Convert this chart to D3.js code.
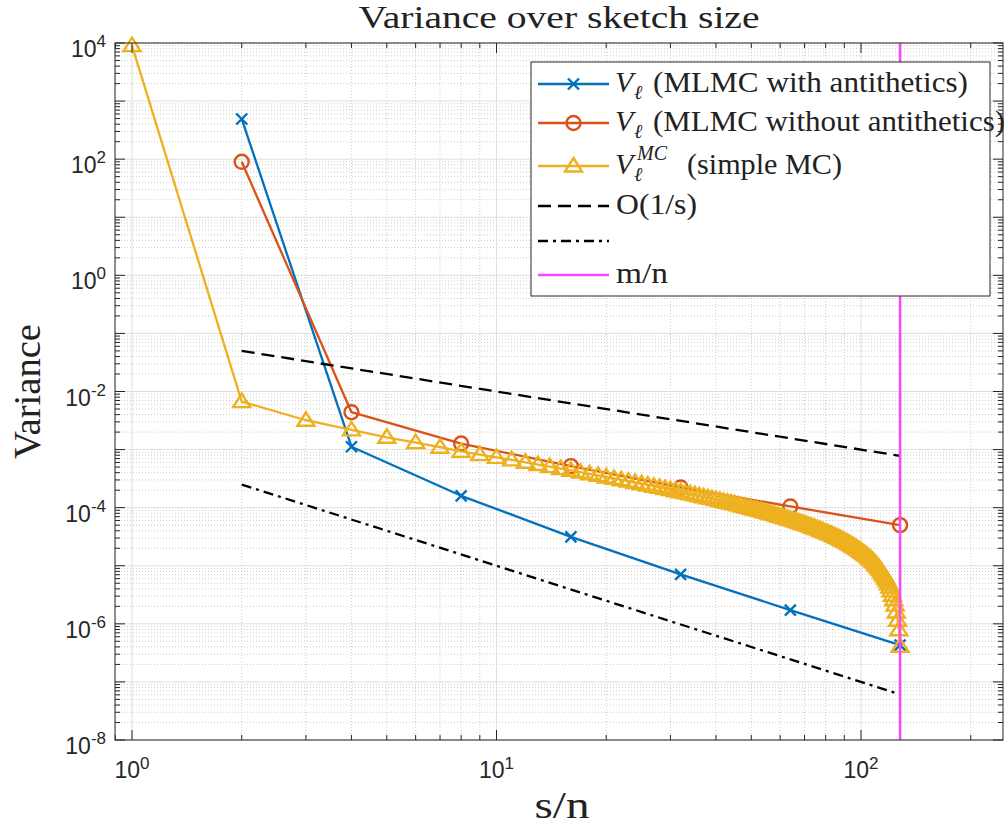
<!DOCTYPE html>
<html><head><meta charset="utf-8">
<script src="https://cdn.jsdelivr.net/npm/d3@7/dist/d3.min.js"></script>
<style>body{margin:0;background:#fff}svg{display:block}</style>
</head><body>
<svg id="chart" width="1008" height="832"></svg>
<script>
// ---------------- data ----------------
const sketchMLMC = [2, 4, 8, 16, 32, 64, 128];
const varAntithetic = [492, 1.12e-3, 1.6e-4, 3.15e-5, 7.1e-6, 1.72e-6, 4.3e-7];
const varNoAntithetic = [90, 4.4e-3, 1.27e-3, 5.2e-4, 2.23e-4, 1.05e-4, 5.0e-5];
const sketchMC = [1,2,3,4,5,6,7,8,9,10,11,12,13,14,15,16,17,18,19,20,21,22,23,24,25,26,27,28,29,30,31,32,
  33,34,35,36,37,38,39,40,41,42,43,44,45,46,47,48,49,50,51,52,53,54,55,56,57,58,59,60,61,62,63,64,
  65,66,67,68,69,70,71,72,73,74,75,76,77,78,79,80,81,82,83,84,85,86,87,88,89,90,91,92,93,94,95,96,
  97,98,99,100,101,102,103,104,105,106,107,108,109,110,111,112,113,114,115,116,117,118,119,120,121,122,123,124,125,126,127,128];
const varMC = [9000, 6.7e-3, 3.2e-3, 2.18e-3, 1.63e-3, 1.32e-3, 1.10e-3, 9.3e-4, 8.2e-4, 7.35e-4,
  6.65e-4, 6.05e-4, 5.53e-4, 5.09e-4, 4.71e-4, 4.38e-4, 4.09e-4, 3.82e-4, 3.59e-4, 3.38e-4,
  3.19e-4, 3.02e-4, 2.86e-4, 2.71e-4, 2.58e-4, 2.46e-4, 2.34e-4, 2.24e-4, 2.14e-4, 2.05e-4,
  1.96e-4, 1.88e-4, 1.80e-4, 1.73e-4, 1.67e-4, 1.60e-4, 1.54e-4, 1.48e-4, 1.43e-4, 1.38e-4,
  1.33e-4, 1.28e-4, 1.24e-4, 1.20e-4, 1.16e-4, 1.12e-4, 1.08e-4, 1.05e-4, 1.01e-4, 9.79e-5,
  9.48e-5, 9.17e-5, 8.88e-5, 8.60e-5, 8.34e-5, 8.08e-5, 7.83e-5, 7.58e-5, 7.35e-5, 7.12e-5,
  6.90e-5, 6.69e-5, 6.49e-5, 6.29e-5, 6.10e-5, 5.91e-5, 5.73e-5, 5.55e-5, 5.38e-5, 5.22e-5,
  5.06e-5, 4.90e-5, 4.75e-5, 4.60e-5, 4.46e-5, 4.32e-5, 4.18e-5, 4.05e-5, 3.92e-5, 3.79e-5,
  3.67e-5, 3.55e-5, 3.43e-5, 3.31e-5, 3.20e-5, 3.09e-5, 2.99e-5, 2.88e-5, 2.78e-5, 2.68e-5,
  2.58e-5, 2.49e-5, 2.39e-5, 2.30e-5, 2.21e-5, 2.12e-5, 2.04e-5, 1.95e-5, 1.87e-5, 1.79e-5,
  1.71e-5, 1.63e-5, 1.56e-5, 1.48e-5, 1.41e-5, 1.34e-5, 1.27e-5, 1.20e-5, 1.13e-5, 1.06e-5,
  9.9e-6, 9.2e-6, 8.6e-6, 7.9e-6, 7.3e-6, 6.7e-6, 6.1e-6, 5.5e-6, 4.9e-6, 4.3e-6,
  3.7e-6, 3.1e-6, 2.6e-6, 2.1e-6, 1.6e-6, 1.15e-6, 7.9e-7, 4.1e-7];
const refX = [2, 128];
const refFirstOrder = [0.05, 7.8e-4];      // O(1/s)
const refSecondOrder = [2.5e-4, 6.1e-8];   // dash-dot reference
const mOverN = 128;
const xTickValues = [1, 10, 100];
const xTickExponents = ["0", "1", "2"];
const yTickValues = [1e4, 1e2, 1, 1e-2, 1e-4, 1e-6, 1e-8];
const yTickExponents = ["4", "2", "0", "-2", "-4", "-6", "-8"];
const legendLabels = ["(MLMC with antithetics)", "(MLMC without antithetics)", "(simple MC)", "O(1/s)", "", "m/n"];
const titleText = "Variance over sketch size";
const xLabelText = "s/n";
const yLabelText = "Variance";

// ---------------- layout ----------------
const C = {blue: "#0072BD", red: "#D95319", yellow: "#EDB120", magenta: "#FF44FF", axis: "#262626"};
const L = 115, R = 1003, T = 43, B = 740;
const LW = 2.3, MW = 2.4;
const xRef = d3.scaleLog().domain([1, 100]).range([132, 861]);
const x = d3.scaleLog().domain([xRef.invert(L), xRef.invert(R)]).range([L, R]);
const y = d3.scaleLog().domain([1e-8, 1e4]).range([B, T]);

const svg = d3.select("#chart");
svg.append("rect").attr("width", 1008).attr("height", 832).attr("fill", "#fff");
svg.append("defs").append("clipPath").attr("id", "clip")
  .append("rect").attr("x", L).attr("y", T - 10).attr("width", R - L).attr("height", B - T + 10);

// grid
const xAll = x.ticks();
const yAll = [];
for (let e = -8; e < 4; e++) for (let m = 1; m < 10; m++) yAll.push(m * Math.pow(10, e));
yAll.push(1e4);
const isMajor = v => Math.abs(Math.log10(v) - Math.round(Math.log10(v))) < 1e-9;
const xMinor = xAll.filter(v => !isMajor(v) && v > x.domain()[0] && v < x.domain()[1]);
const xMajor = xAll.filter(v => isMajor(v));
const yMinor = yAll.filter(v => !isMajor(v));
const yMajor = yAll.filter(v => isMajor(v));

const grid = svg.append("g");
grid.selectAll(".gxm").data(xMinor).join("line")
  .attr("x1", d => x(d)).attr("x2", d => x(d)).attr("y1", T).attr("y2", B)
  .attr("stroke", "#cdcdcd").attr("stroke-width", 1).attr("stroke-dasharray", "1,2");
grid.selectAll(".gym").data(yMinor).join("line")
  .attr("y1", d => y(d)).attr("y2", d => y(d)).attr("x1", L).attr("x2", R)
  .attr("stroke", "#cdcdcd").attr("stroke-width", 1).attr("stroke-dasharray", "1,2");
grid.selectAll(".gxM").data(xMajor).join("line")
  .attr("x1", d => x(d)).attr("x2", d => x(d)).attr("y1", T).attr("y2", B)
  .attr("stroke", "#dedede").attr("stroke-width", 1);
grid.selectAll(".gyM").data(yMajor).join("line")
  .attr("y1", d => y(d)).attr("y2", d => y(d)).attr("x1", L).attr("x2", R)
  .attr("stroke", "#dedede").attr("stroke-width", 1);

// data
const plotG = svg.append("g").attr("clip-path", "url(#clip)");
const line = d3.line().x(d => x(d[0])).y(d => y(d[1]));
const zip = (a, b) => a.map((v, i) => [v, b[i]]);

const crossPath = "M-5.5,-5.5L5.5,5.5M-5.5,5.5L5.5,-5.5";
const triPath = "M0,-8L8.5,5.5L-8.5,5.5Z";

function series(pts, color, marker) {
  plotG.append("path").attr("d", line(pts)).attr("fill", "none")
    .attr("stroke", color).attr("stroke-width", LW).attr("stroke-linejoin", "round");
  const g = plotG.append("g");
  if (marker === "circle") {
    g.selectAll("circle").data(pts).join("circle")
      .attr("cx", d => x(d[0])).attr("cy", d => y(d[1])).attr("r", 7)
      .attr("fill", "none").attr("stroke", color).attr("stroke-width", MW);
  } else {
    g.selectAll("path").data(pts).join("path")
      .attr("transform", d => `translate(${x(d[0])},${y(d[1])})`)
      .attr("d", marker === "cross" ? crossPath : triPath)
      .attr("fill", "none").attr("stroke", color).attr("stroke-width", MW)
      .attr("stroke-linejoin", "miter");
  }
}
series(zip(sketchMLMC, varAntithetic), C.blue, "cross");
series(zip(sketchMLMC, varNoAntithetic), C.red, "circle");
series(zip(sketchMC, varMC), C.yellow, "tri");

plotG.append("path").attr("d", line(zip(refX, refFirstOrder))).attr("fill", "none")
  .attr("stroke", "#000").attr("stroke-width", LW).attr("stroke-dasharray", "13,7");
plotG.append("path").attr("d", line(zip(refX, refSecondOrder))).attr("fill", "none")
  .attr("stroke", "#000").attr("stroke-width", LW).attr("stroke-dasharray", "10,5,3,5");
plotG.append("line").attr("x1", x(mOverN)).attr("x2", x(mOverN)).attr("y1", T).attr("y2", B)
  .attr("stroke", C.magenta).attr("stroke-width", 2.5);

// axes box + ticks
const ax = svg.append("g").attr("stroke", C.axis).attr("stroke-width", 1).attr("fill", "none");
ax.append("rect").attr("x", L).attr("y", T).attr("width", R - L).attr("height", B - T);
const tk = (v, maj) => maj ? 10 : 5;
[...xMinor.map(v => [v, false]), ...xMajor.map(v => [v, true])].forEach(([v, m]) => {
  ax.append("line").attr("x1", x(v)).attr("x2", x(v)).attr("y1", B).attr("y2", B - tk(v, m));
  ax.append("line").attr("x1", x(v)).attr("x2", x(v)).attr("y1", T).attr("y2", T + tk(v, m));
});
[...yMinor.map(v => [v, false]), ...yMajor.map(v => [v, true])].forEach(([v, m]) => {
  ax.append("line").attr("y1", y(v)).attr("y2", y(v)).attr("x1", L).attr("x2", L + tk(v, m));
  ax.append("line").attr("y1", y(v)).attr("y2", y(v)).attr("x1", R).attr("x2", R - tk(v, m));
});

// tick labels
const tickFont = "'Liberation Sans', Arial, Helvetica, sans-serif";
xTickValues.forEach((v, i) => {
  const t = svg.append("text").attr("x", x(v)).attr("y", 778).attr("text-anchor", "middle")
    .attr("font-family", tickFont).attr("font-size", 23).attr("fill", C.axis);
  t.append("tspan").text("10");
  t.append("tspan").attr("dy", -9).attr("font-size", 17).text(xTickExponents[i]);
});
yTickValues.forEach((v, i) => {
  const t = svg.append("text").attr("x", 106).attr("y", y(v) + 14).attr("text-anchor", "end")
    .attr("font-family", tickFont).attr("font-size", 23).attr("fill", C.axis);
  t.append("tspan").text("10");
  t.append("tspan").attr("dy", -10).attr("font-size", 17).text(yTickExponents[i]);
});

// titles
const serif = "'Liberation Serif', 'Times New Roman', serif";
svg.append("text").attr("x", (L + R) / 2).attr("y", 28).attr("text-anchor", "middle")
  .attr("font-family", serif).attr("font-size", 32).attr("fill", "#222")
  .attr("textLength", 401).attr("lengthAdjust", "spacingAndGlyphs").text(titleText);
svg.append("text").attr("transform", `translate(40,${(T + B) / 2}) rotate(-90)`)
  .attr("text-anchor", "middle").attr("font-family", serif).attr("font-size", 38).attr("fill", "#222")
  .attr("textLength", 135).attr("lengthAdjust", "spacingAndGlyphs").text(yLabelText);
svg.append("text").attr("x", (L + R) / 2 + 3).attr("y", 818).attr("text-anchor", "middle")
  .attr("font-family", serif).attr("font-size", 38).attr("fill", "#222")
  .attr("textLength", 55).attr("lengthAdjust", "spacingAndGlyphs").text(xLabelText);

// legend
const lg = svg.append("g");
lg.append("rect").attr("x", 531).attr("y", 62).attr("width", 459).attr("height", 234)
  .attr("fill", "#fff").attr("stroke", C.axis).attr("stroke-width", 1);
const rows = [
  {cy: 84, color: C.blue, marker: "cross", dash: null, kind: "V", restX: 653, restLen: 315},
  {cy: 123, color: C.red, marker: "circle", dash: null, kind: "V", restX: 653, restLen: 352},
  {cy: 166, color: C.yellow, marker: "tri", dash: null, kind: "VMC", restX: 687, restLen: 155},
  {cy: 206, color: "#000", marker: null, dash: "13,7", kind: "plain", restX: 616, restLen: 81},
  {cy: 241, color: "#000", marker: null, dash: "10,5,3,5", kind: "none"},
  {cy: 275, color: C.magenta, marker: null, dash: null, kind: "plain", restX: 616, restLen: 52},
];
rows.forEach((r, i) => {
  lg.append("line").attr("x1", 538).attr("x2", 609).attr("y1", r.cy).attr("y2", r.cy)
    .attr("stroke", r.color).attr("stroke-width", LW).attr("stroke-dasharray", r.dash);
  if (r.marker === "circle") {
    lg.append("circle").attr("cx", 573.5).attr("cy", r.cy).attr("r", 7)
      .attr("fill", "none").attr("stroke", r.color).attr("stroke-width", MW);
  } else if (r.marker) {
    lg.append("path").attr("transform", `translate(573.5,${r.cy})`)
      .attr("d", r.marker === "cross" ? crossPath : triPath)
      .attr("fill", "none").attr("stroke", r.color).attr("stroke-width", MW);
  }
  if (r.kind === "none") return;
  const base = r.cy + 8;
  if (r.kind === "V" || r.kind === "VMC") {
    lg.append("text").attr("x", 615).attr("y", base).attr("font-family", serif)
      .attr("font-size", 30).attr("font-style", "italic").attr("fill", "#222").text("V");
    lg.append("text").attr("x", 634).attr("y", base + 7).attr("font-family", serif)
      .attr("font-size", 20).attr("font-style", "italic").attr("fill", "#222").text("ℓ");
    if (r.kind === "VMC") {
      lg.append("text").attr("x", 637).attr("y", base - 14).attr("font-family", serif)
        .attr("font-size", 20).attr("font-style", "italic").attr("fill", "#222").text("MC");
    }
  }
  lg.append("text").attr("x", r.restX).attr("y", base).attr("font-family", serif)
    .attr("font-size", 30).attr("fill", "#222")
    .attr("textLength", r.restLen).attr("lengthAdjust", "spacingAndGlyphs").text(legendLabels[i]);
});
</script>
</body></html>
